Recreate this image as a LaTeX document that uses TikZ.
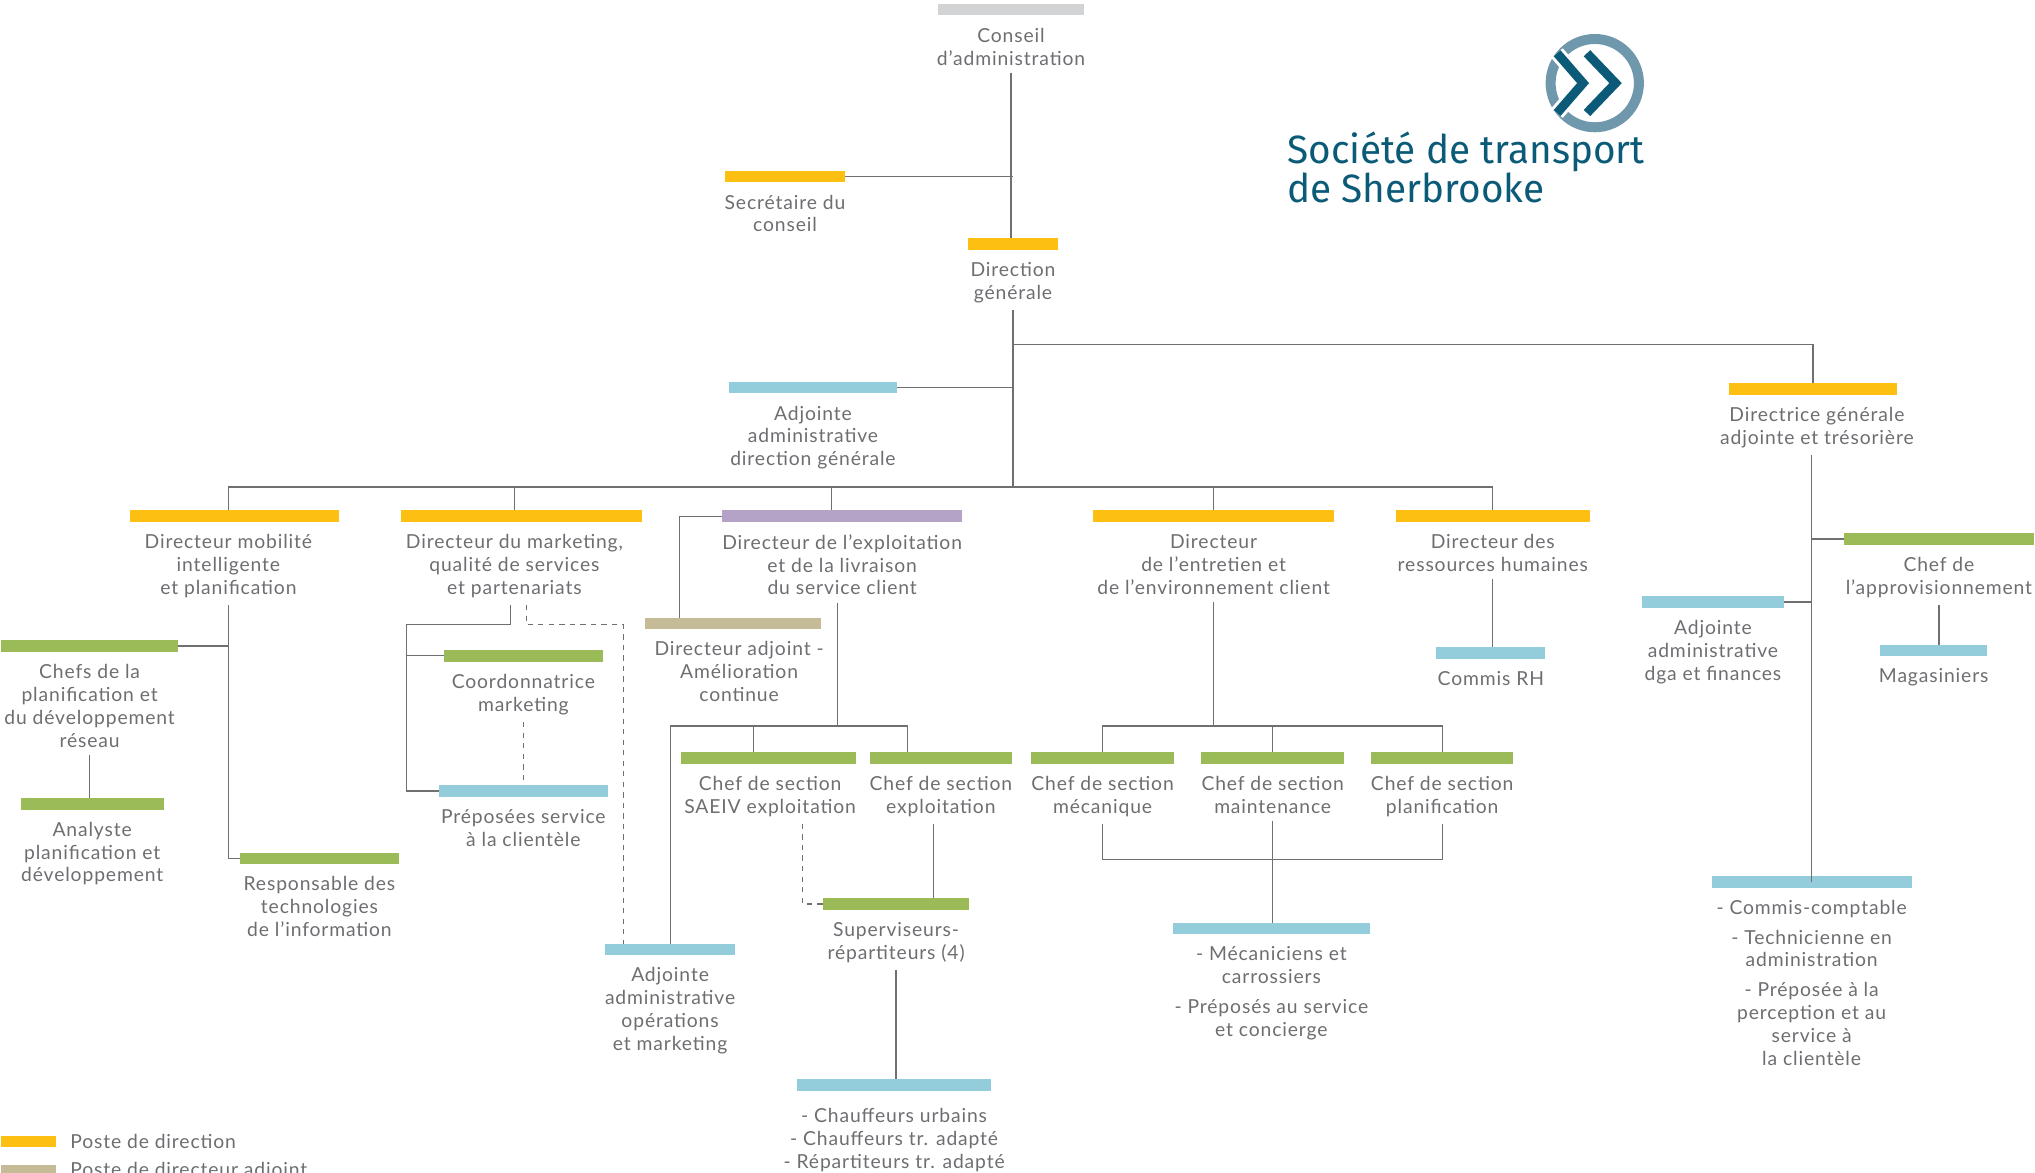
\documentclass[tikz,border=0pt]{standalone}
\usepackage{fontspec}
\setmainfont{Lato}[LetterSpace=4.5]
\newfontfamily\logofont{Fira Sans}
\usetikzlibrary{
		calc,
		positioning
	}
\definecolor{stsyellow}{HTML}{FCBF12}
\definecolor{stsgreen}{HTML}{9BBB59}
\definecolor{stsblue}{HTML}{93CDDC}
\definecolor{stspurple}{HTML}{B4A2C7}
\definecolor{stskhaki}{HTML}{C5BC97}
\definecolor{stsgray}{HTML}{D2D3D5}
\definecolor{txtgray}{HTML}{6D6E71}
\definecolor{linegray}{HTML}{707070}
\definecolor{ststeal}{HTML}{0B5A78}
\definecolor{stsring}{HTML}{7098AD}
\tikzset{
		>=stealth,
		posbar/.style={rectangle, draw=none, inner sep=0pt, outer sep=0pt, minimum height=0.23cm, minimum width=#1*0.026cm},
		dirbar/.style={posbar=#1, fill=stsyellow},
		adjbar/.style={posbar=#1, fill=stskhaki},
		explbar/.style={posbar=#1, fill=stspurple},
		chefbar/.style={posbar=#1, fill=stsgreen},
		empbar/.style={posbar=#1, fill=stsblue},
		cabar/.style={posbar=#1, fill=stsgray},
		lbl/.style={align=center, text=txtgray, inner sep=0pt, outer xsep=0pt, outer ysep=0.15cm, font=\fontsize{11}{13}\selectfont},
		link/.style={draw=linegray, line width=0.7pt},
		logo/.style={align=left, inner sep=0pt, text=ststeal, font=\logofont\fontsize{22.5}{20.7}\selectfont}
	}

\begin{document}
\begin{tikzpicture}[x=0.026cm, y=-0.026cm]
		\useasboundingbox (0,0) rectangle (1567,903);
		% logo
		\draw[stsring, line width=0.2cm] (1228,64) circle [radius=34];
		\draw[white, line width=0.3cm] (1199,41) -- (1219,64) -- (1199,87);
		\draw[ststeal, line width=0.18cm] (1199,41) -- (1219,64) -- (1199,87);
		\draw[white, line width=0.3cm] (1222,41) -- (1244,64) -- (1222,87);
		\draw[ststeal, line width=0.18cm] (1222,41) -- (1244,64) -- (1222,87);
		\node[logo, anchor=north west] (logo) at (991,101) {\scalebox{0.98}[1]{Société de transport}\\\scalebox{0.98}[1]{de Sherbrooke}};
		% haut
		\node[cabar=113] (con) at (778.5,7.5) {};
		\node[lbl, below=0.1cm of con] (conT) {Conseil\\d’administration};
		\node[dirbar=93] (sec) at (604.5,136) {};
		\node[lbl, below=0.1cm of sec] (secT) {Secrétaire du\\conseil};
		\node[dirbar=70] (dg) at (780,188) {};
		\node[lbl, below=0.1cm of dg] (dgT) {Direction\\générale};
		\node[empbar=130] (adg) at (626,298.5) {};
		\node[lbl, below=0.1cm of adg] (adgT) {Adjointe\\administrative\\direction générale};
		\node[dirbar=130] (dga) at (1396,299.5) {};
		\node[lbl, below=0.1cm of dga, xshift=0.08cm] (dgaT) {Directrice générale\\adjointe et trésorière};
		% directeurs
		\node[dirbar=161] (mob) at (180.5,397.5) {};
		\node[lbl, below=0.1cm of mob, xshift=-0.12cm] (mobT) {Directeur mobilité\\intelligente\\et planification};
		\node[dirbar=185] (mkt) at (401.5,397.5) {};
		\node[lbl, below=0.1cm of mkt, xshift=-0.14cm] (mktT) {Directeur du marketing,\\qualité de services\\et partenariats};
		\node[explbar=185] (expl) at (648.5,397.5) {};
		\node[lbl, below=0.1cm of expl] (explT) {Directeur de l’exploitation\\et de la livraison\\du service client};
		\node[dirbar=185] (ent) at (934.5,397.5) {};
		\node[lbl, below=0.1cm of ent] (entT) {Directeur\\de l’entretien et\\de l’environnement client};
		\node[dirbar=149] (rh) at (1149.5,397.5) {};
		\node[lbl, below=0.1cm of rh] (rhT) {Directeur des\\ressources humaines};
		% mobilite
		\node[chefbar=136] (chefs) at (69,497.5) {};
		\node[lbl, below=0.1cm of chefs] (chefsT) {Chefs de la\\planification et\\du développement\\réseau};
		\node[chefbar=110] (ana) at (71,619) {};
		\node[lbl, below=0.1cm of ana] (anaT) {Analyste\\planification et\\développement};
		\node[chefbar=122] (resp) at (246,661) {};
		\node[lbl, below=0.1cm of resp] (respT) {Responsable des\\technologies\\de l’information};
		% marketing
		\node[chefbar=122] (coord) at (403,505) {};
		\node[lbl, below=0.1cm of coord] (coordT) {Coordonnatrice\\marketing};
		\node[empbar=130] (prep) at (403,609) {};
		\node[lbl, below=0.1cm of prep] (prepT) {Préposées service\\à la clientèle};
		\node[empbar=100] (aops) at (516,731) {};
		\node[lbl, below=0.1cm of aops] (aopsT) {Adjointe\\administrative\\opérations\\et marketing};
		% exploitation
		\node[adjbar=135] (adjexp) at (564.5,480) {};
		\node[lbl, below=0.1cm of adjexp, xshift=0.12cm] (adjexpT) {Directeur adjoint -\\Amélioration\\continue};
		\node[chefbar=135] (saeiv) at (591.5,583.5) {};
		\node[lbl, below=0.1cm of saeiv, xshift=0.04cm] (saeivT) {Chef de section\\SAEIV exploitation};
		\node[chefbar=109] (cexp) at (724.5,583.5) {};
		\node[lbl, below=0.1cm of cexp] (cexpT) {Chef de section\\exploitation};
		\node[chefbar=112] (sup) at (690,696) {};
		\node[lbl, below=0.1cm of sup] (supT) {Superviseurs-\\répartiteurs (4)};
		\node[empbar=149] (chauf) at (688.5,835.5) {};
		\node[lbl, below=0.2cm of chauf] (chaufT) {- Chauffeurs urbains\\- Chauffeurs tr. adapté\\- Répartiteurs tr. adapté};
		% entretien
		\node[chefbar=110] (cmec) at (849,583.5) {};
		\node[lbl, below=0.1cm of cmec] (cmecT) {Chef de section\\mécanique};
		\node[chefbar=110] (cmnt) at (980,583.5) {};
		\node[lbl, below=0.1cm of cmnt] (cmntT) {Chef de section\\maintenance};
		\node[chefbar=109] (cpla) at (1110.5,583.5) {};
		\node[lbl, below=0.1cm of cpla] (cplaT) {Chef de section\\planification};
		\node[empbar=152] (meca) at (979,715) {};
		\node[lbl, below=0.1cm of meca] (mecaT) {- Mécaniciens et\\carrossiers\\[4pt]- Préposés au service\\et concierge};
		% rh
		\node[empbar=84] (crh) at (1148,503) {};
		\node[lbl, below=0.1cm of crh] (crhT) {Commis RH};
		% dga
		\node[chefbar=146] (appro) at (1493,415) {};
		\node[lbl, below=0.1cm of appro] (approT) {Chef de\\l’approvisionnement};
		\node[empbar=110] (adga) at (1319,463.5) {};
		\node[lbl, below=0.1cm of adga] (adgaT) {Adjointe\\administrative\\dga et finances};
		\node[empbar=82] (mag) at (1489,501) {};
		\node[lbl, below=0.1cm of mag] (magT) {Magasiniers};
		\node[empbar=154] (cc) at (1395,679) {};
		\node[lbl, below=0.1cm of cc] (ccT) {- Commis-comptable\\[4pt]- Technicienne en\\administration\\[4pt]- Préposée à la\\perception et au\\service à\\la clientèle};
		% legende
		\node[dirbar=42] (legA) at (22,879) {};
		\node[lbl, right=0.29cm of legA] (legAT) {Poste de direction};
		\node[adjbar=42] (legB) at (22,901.5) {};
		\node[lbl, right=0.29cm of legB] (legBT) {Poste de directeur adjoint};

		% liens
		\coordinate (bus) at (780,375);
		\coordinate (dgaJ) at (780,265);
		\draw[link] (conT.south) -- (conT.south |- dg.north);
		\draw[link] (sec.east) -- (sec.east -| dg.north);
		\draw[link] (dgT.south) -- (bus);
		\draw[link] (dgaJ) -| (dga.north);
		\draw[link] (adg.east) -- (adg.east -| bus);
		\draw[link] (mob.north -| mobT) -- (mobT |- bus) -- (rhT |- bus) -- (rh.north -| rhT);
		\draw[link] (mktT |- bus) -- (mkt.north -| mktT);
		\path ($(expl.north)+(-8,0)$) coordinate (explD);
		\draw[link] (explD |- bus) -- (explD);
		\draw[link] (entT |- bus) -- (ent.north -| entT);
		% liens mobilite
		\draw[link] (mobT.south) |- (resp.west);
		\draw[link] (chefs.east) -- (chefs.east -| mobT.south);
		\draw[link] (chefsT.south) -- (chefsT.south |- ana.north);
		% liens marketing
		\coordinate (mktJ) at (313,481);
		\coordinate (mktD) at (480,481);
		\draw[link] ($(mktT.south)+(-3,0)$) |- (mktJ) |- (prep.west);
		\draw[link] (coord.west) -- (coord.west -| mktJ);
		\draw[link, dashed] (coordT.south) -- (coordT.south |- prep.north);
		\draw[link, dashed] ($(mktT.south)+(9,0)$) |- (mktD) -- (mktD |- aops.north);
		% liens exploitation
		\coordinate (explJ) at (645,559);
		\coordinate (saeivD) at (580,559);
		\coordinate (cexpD) at (699,559);
		\draw[link] (expl.west) -| ($(adjexp.north west)+(26,0)$);
		\draw[link] (explT.south -| explJ) -- (explJ);
		\draw[link] (aops.north) |- (cexpD) -- (cexpD |- cexp.north);
		\draw[link] (saeivD) -- (saeivD |- saeiv.north);
		\draw[link, dashed] ($(saeivT.south)+(25,0)$) |- (sup.west);
		\path ($(sup.north)+(29,0)$) coordinate (supD);
		\draw[link] (supD |- cexpT.south) -- (supD);
		\draw[link] (supT.south) -- (supT.south |- chauf.north);
		% liens entretien
		\coordinate (entJ) at (934,559);
		\coordinate (mecJ) at (980,662);
		\draw[link] (entT.south) -- (entT.south |- entJ);
		\draw[link] (cmec.north) |- (entJ) -| (cpla.north);
		\draw[link] (cmnt.north) -- (cmnt.north |- entJ);
		\draw[link] (cmecT.south) |- (mecJ) -| (cplaT.south);
		\draw[link] (cmntT.south) -- (cmntT.south |- meca.north);
		% liens rh et dga
		\draw[link] (rhT.south) -- (rhT.south |- crh.north);
		\draw[link] (cc.center |- dgaT.south) -- (cc.center);
		\draw[link] (appro.west) -- (appro.west -| cc);
		\draw[link] (adga.east) -- (adga.east -| cc);
		\draw[link] (approT.south) -- (approT.south |- mag.north);
	\end{tikzpicture}
\end{document}
